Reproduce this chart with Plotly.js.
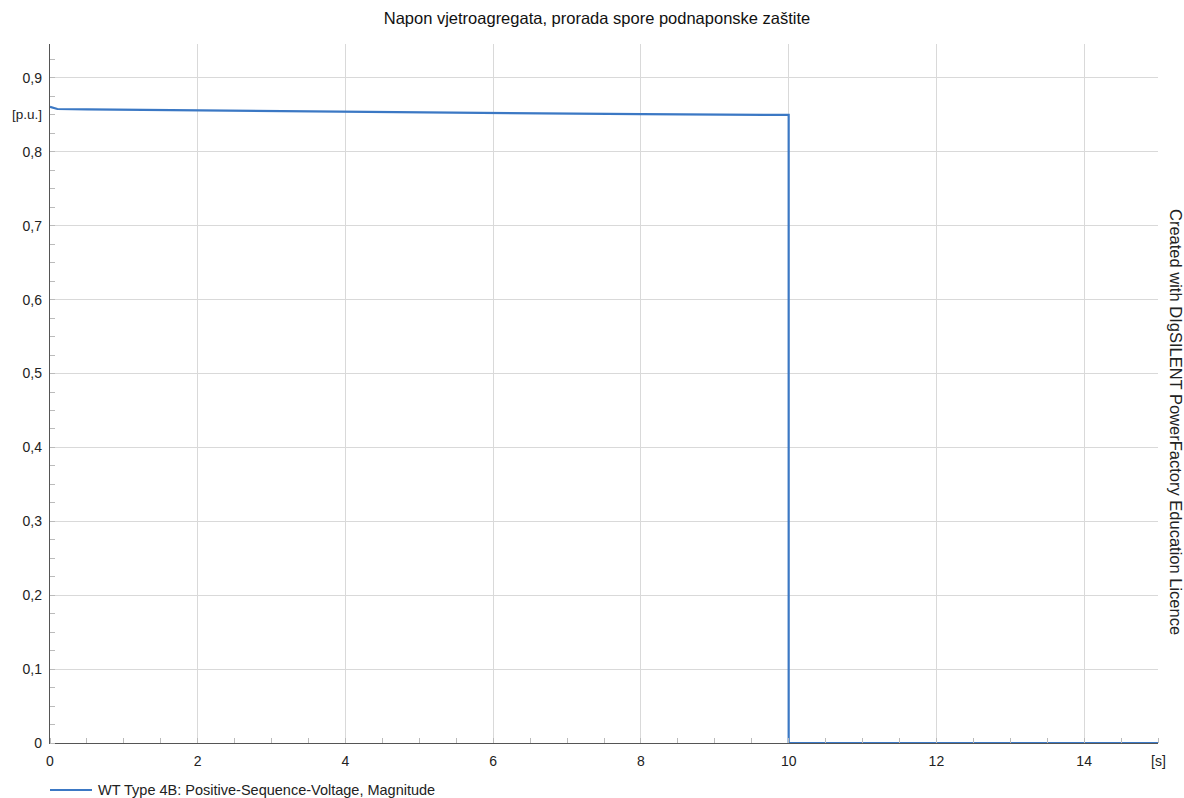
<!DOCTYPE html>
<html>
<head>
<meta charset="utf-8">
<script src="https://cdn.plot.ly/plotly-3.0.1.min.js"></script>
<style>html,body{margin:0;padding:0;background:#fff;}#chart{width:1184px;height:798px;}</style>
</head>
<body>
<div id="chart"></div>
<script>
const timeS = [0, 0.1, 0.5, 2, 4, 6, 8, 10, 10, 12, 15];
const voltagePu = [0.861, 0.858, 0.8575, 0.856, 0.854, 0.852, 0.851, 0.850, 0, 0, 0];
const xTickVals = [0, 2, 4, 6, 8, 10, 12, 14];
const yTickVals = [0, 0.1, 0.2, 0.3, 0.4, 0.5, 0.6, 0.7, 0.8, 0.9];
const chartTitle = 'Napon vjetroagregata, prorada spore podnaponske zaštite';
const seriesName = 'WT Type 4B: Positive-Sequence-Voltage, Magnitude';
const watermark = 'Created with DIgSILENT PowerFactory Education Licence';

const font = 'Liberation Sans, Arial, sans-serif';
const trace = {
  x: timeS, y: voltagePu, type: 'scatter', mode: 'lines', name: seriesName,
  line: {color: '#3b78c4', width: 2.2}, showlegend: false, hoverinfo: 'skip'
};
const layout = {
  width: 1184, height: 798,
  margin: {l: 50, r: 26, t: 44, b: 55},
  paper_bgcolor: '#fff', plot_bgcolor: '#fff',
  separators: ', ',
  font: {family: font, size: 14, color: '#222'},
  title: {text: chartTitle, x: 597 / 1184, xanchor: 'center', y: 0.977, yanchor: 'middle',
          font: {family: font, size: 16.5, color: '#111'}},
  xaxis: {
    range: [0, 15], tickvals: xTickVals, ticktext: xTickVals.map(String),
    showgrid: true, gridcolor: '#d9d9d9', gridwidth: 1,
    showline: true, linecolor: '#555', linewidth: 1.2,
    ticks: '', zeroline: false, fixedrange: true, ticklabelstandoff: 5,
    minor: {dtick: 0.5, ticks: 'inside', ticklen: 5, tickcolor: '#bbb', showgrid: false},
    tickfont: {family: font, size: 14, color: '#222'}
  },
  yaxis: {
    range: [0, 0.946], tickvals: yTickVals, ticktext: yTickVals.map(v => v === 0 ? '0' : v.toFixed(1).replace('.', ',')),
    showgrid: true, gridcolor: '#d9d9d9', gridwidth: 1,
    showline: true, linecolor: '#555', linewidth: 1.2,
    ticks: '', zeroline: false, fixedrange: true, ticklabelstandoff: 4,
    minor: {dtick: 0.025, ticks: 'inside', ticklen: 5, tickcolor: '#bbb', showgrid: false},
    tickfont: {family: font, size: 14, color: '#222'}
  },
  annotations: [
    {text: '[p.u.]', xref: 'paper', yref: 'y', x: 0, y: 0.85, xanchor: 'right', xshift: -6,
     showarrow: false, font: {family: font, size: 13.5, color: '#222'}},
    {text: '[s]', xref: 'x', yref: 'paper', x: 15, y: 0, yanchor: 'top', yshift: -8,
     showarrow: false, font: {family: font, size: 14, color: '#222'}},
    {text: watermark, xref: 'paper', yref: 'paper', x: 1, y: (743 - 422) / 699, xanchor: 'center', yanchor: 'middle',
     xshift: 18, textangle: 90,
     showarrow: false, font: {family: font, size: 16.5, color: '#222'}},
    {text: seriesName, xref: 'paper', yref: 'paper', x: 0, y: 0, xanchor: 'left', yanchor: 'middle',
     xshift: 46, yshift: -47, showarrow: false, font: {family: font, size: 14.5, color: '#222'}}
  ],
  shapes: [
    {type: 'line', xref: 'paper', yref: 'paper', x0: 0, x1: 42, y0: -47, y1: -47,
     xsizemode: 'pixel', ysizemode: 'pixel', xanchor: 0, yanchor: 0,
     line: {color: '#3b78c4', width: 2.2}}
  ]
};
Plotly.newPlot('chart', [trace], layout, {displayModeBar: false, staticPlot: true});
</script>
</body>
</html>
